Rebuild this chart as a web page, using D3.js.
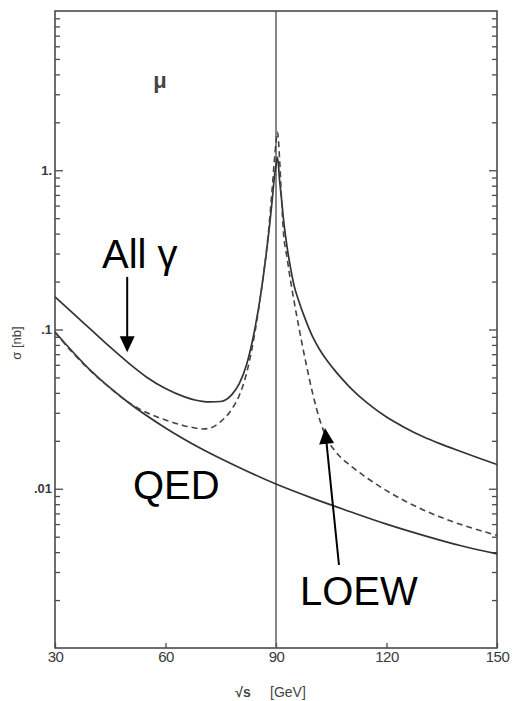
<!DOCTYPE html>
<html><head><meta charset="utf-8">
<script src="https://cdn.jsdelivr.net/npm/d3@7"></script>
<style>body{margin:0;background:#fff}</style>
</head><body>
<svg id="c" width="512" height="701"></svg>
<script>
// ---- data (sqrt(s) in GeV, sigma in nb) ----
const qedEnergy = [30,40,50,60,70,80,90,100,110,120,130,140,150];
const qedSigma  = [0.0964,0.0543,0.0347,0.0241,0.0177,0.0136,0.0107,0.0087,0.0072,0.0060,0.0051,0.0044,0.0039];

const ewEnergy = [30,35,40,45,50,55,60,65,68,70,72,75,78,80,82,84,86,88,89,89.5,90,90.4,91,91.5,92,93,94,95,96,98,100,102,104,106,108,110,115,120,125,130,135,140,145,150];
const allGammaSigma = [0.160,0.1256,0.0986,0.0774,0.0615,0.0500,0.0426,0.0379,0.0361,0.0354,0.0351,0.0353,0.0390,0.0455,0.060,0.094,0.175,0.40,0.66,0.88,1.08,1.21,0.85,0.66,0.50,0.33,0.24,0.185,0.1556,0.1153,0.0895,0.0738,0.0631,0.0552,0.0488,0.0435,0.0342,0.0282,0.0242,0.0212,0.0190,0.0172,0.0156,0.0142];
const loewSigma = [0.096,0.0706,0.054,0.0428,0.0348,0.0300,0.0270,0.0249,0.0241,0.0237,0.0240,0.0264,0.0316,0.0384,0.0530,0.0879,0.175,0.421,0.783,1.107,1.49,1.74,1.15,0.66,0.417,0.282,0.1995,0.1462,0.1096,0.0637,0.0393,0.0265,0.0203,0.0173,0.0154,0.0141,0.01156,0.00973,0.00838,0.00736,0.00659,0.00598,0.0055,0.0051];

const xTicks = [30,60,90,120,150];
const xTickLabels = ["30","60","90","120","150"];
const yMajor = [0.01,0.1,1];
const yMajorLabels = [".01",".1","1."];
const zMarker = 90;

// ---- layout ----
const svg = d3.select("#c");
const L=55, R=497, T=11, B=648;
const x = d3.scaleLinear().domain([30,150]).range([L,R]);
const y = d3.scaleLog().domain([0.001,10]).range([B,T]);
const axisColor = "#4a4a4a";
const font = "'Liberation Sans', Arial, sans-serif";

// minor log ticks
const yMinor = [];
[0.001,0.01,0.1,1].forEach(d=>{ for(let k=2;k<=9;k++) yMinor.push(+(d*k).toPrecision(3)); });

// frame
svg.append("rect").attr("x",L).attr("y",T).attr("width",R-L).attr("height",B-T)
  .attr("fill","none").attr("stroke",axisColor).attr("stroke-width",1.6);

function styleAxis(g){
  g.select(".domain").remove();
  g.selectAll(".tick line").attr("stroke",axisColor).attr("stroke-width",1.3);
  g.selectAll(".tick text").attr("fill","#3a3a3a").style("font-family",font);
}

// left axis: major
svg.append("g").attr("transform",`translate(${L},0)`)
  .call(d3.axisLeft(y).tickValues(yMajor).tickSizeInner(-8).tickSizeOuter(0).tickPadding(3)
    .tickFormat((d,i)=>yMajorLabels[i]))
  .call(styleAxis)
  .call(g=>g.selectAll(".tick text").style("font-size","13px").style("font-weight","bold"));
// left axis: minor
svg.append("g").attr("transform",`translate(${L},0)`)
  .call(d3.axisLeft(y).tickValues(yMinor).tickSizeInner(-5).tickSizeOuter(0).tickFormat(""))
  .call(styleAxis);
// right axis
svg.append("g").attr("transform",`translate(${R},0)`)
  .call(d3.axisRight(y).tickValues(yMajor).tickSizeInner(-8).tickSizeOuter(0).tickFormat(""))
  .call(styleAxis);
svg.append("g").attr("transform",`translate(${R},0)`)
  .call(d3.axisRight(y).tickValues(yMinor).tickSizeInner(-5).tickSizeOuter(0).tickFormat(""))
  .call(styleAxis);
// bottom axis
svg.append("g").attr("transform",`translate(0,${B})`)
  .call(d3.axisBottom(x).tickValues(xTicks).tickSizeInner(-5).tickSizeOuter(0).tickPadding(3)
    .tickFormat((d,i)=>xTickLabels[i]))
  .call(styleAxis)
  .call(g=>g.selectAll(".tick text").style("font-size","15px").attr("letter-spacing","-0.5"));

// axis titles
svg.append("text").attr("x",243).attr("y",697).attr("text-anchor","middle")
  .style("font-family",font).style("font-size","14px").style("font-weight","bold").attr("fill","#444").text("√s");
svg.append("text").attr("x",270).attr("y",697)
  .style("font-family",font).style("font-size","14px").attr("fill","#444").text("[GeV]");
svg.append("text").attr("transform","translate(21,343) rotate(-90)").attr("text-anchor","middle")
  .style("font-family",font).style("font-size","13px").attr("fill","#444").text("σ  [nb]");

// vertical marker line
svg.append("line").attr("x1",x(zMarker)).attr("x2",x(zMarker)).attr("y1",T).attr("y2",B)
  .attr("stroke","#555").attr("stroke-width",1.4);

// curves
const lineQED = d3.line().curve(d3.curveMonotoneX).x((d,i)=>x(qedEnergy[i])).y(d=>y(d));
const lineEW  = d3.line().curve(d3.curveMonotoneX).x((d,i)=>x(ewEnergy[i])).y(d=>y(d));
svg.append("path").attr("d",lineQED(qedSigma)).attr("fill","none").attr("stroke","#333").attr("stroke-width",1.7);
svg.append("path").attr("d",lineEW(allGammaSigma)).attr("fill","none").attr("stroke","#333").attr("stroke-width",1.7);
svg.append("path").attr("d",lineEW(loewSigma)).attr("fill","none").attr("stroke","#444").attr("stroke-width",1.6)
  .attr("stroke-dasharray","6,4");

// labels
svg.append("text").attr("x",160).attr("y",88).attr("text-anchor","middle")
  .style("font-family",font).style("font-size","22px").style("font-weight","bold").attr("fill","#444").text("μ");
const big = (t,px,py)=>svg.append("text").attr("x",px).attr("y",py)
  .style("font-family",font).style("font-size","40px").attr("fill","#000").text(t);
big("All γ",102,268);
big("QED",133,499);
big("LOEW",300,605);

// arrows (data coordinates)
function arrow(from,to){
  const x0=x(from[0]), y0=y(from[1]), x1=x(to[0]), y1=y(to[1]);
  const dx=x1-x0, dy=y1-y0, len=Math.hypot(dx,dy), ux=dx/len, uy=dy/len;
  const hl=16, hw=7.5, bx=x1-hl*ux, by=y1-hl*uy;
  svg.append("line").attr("x1",x0).attr("y1",y0).attr("x2",bx+2*ux).attr("y2",by+2*uy)
    .attr("stroke","#000").attr("stroke-width",2);
  svg.append("path").attr("d",`M${x1},${y1}L${bx-hw*uy},${by+hw*ux}L${bx+hw*uy},${by-hw*ux}Z`).attr("fill","#000");
}
arrow([49.6,0.214],[49.6,0.072]);
arrow([107.1,0.00332],[103.3,0.0241]);
</script>
</body></html>
